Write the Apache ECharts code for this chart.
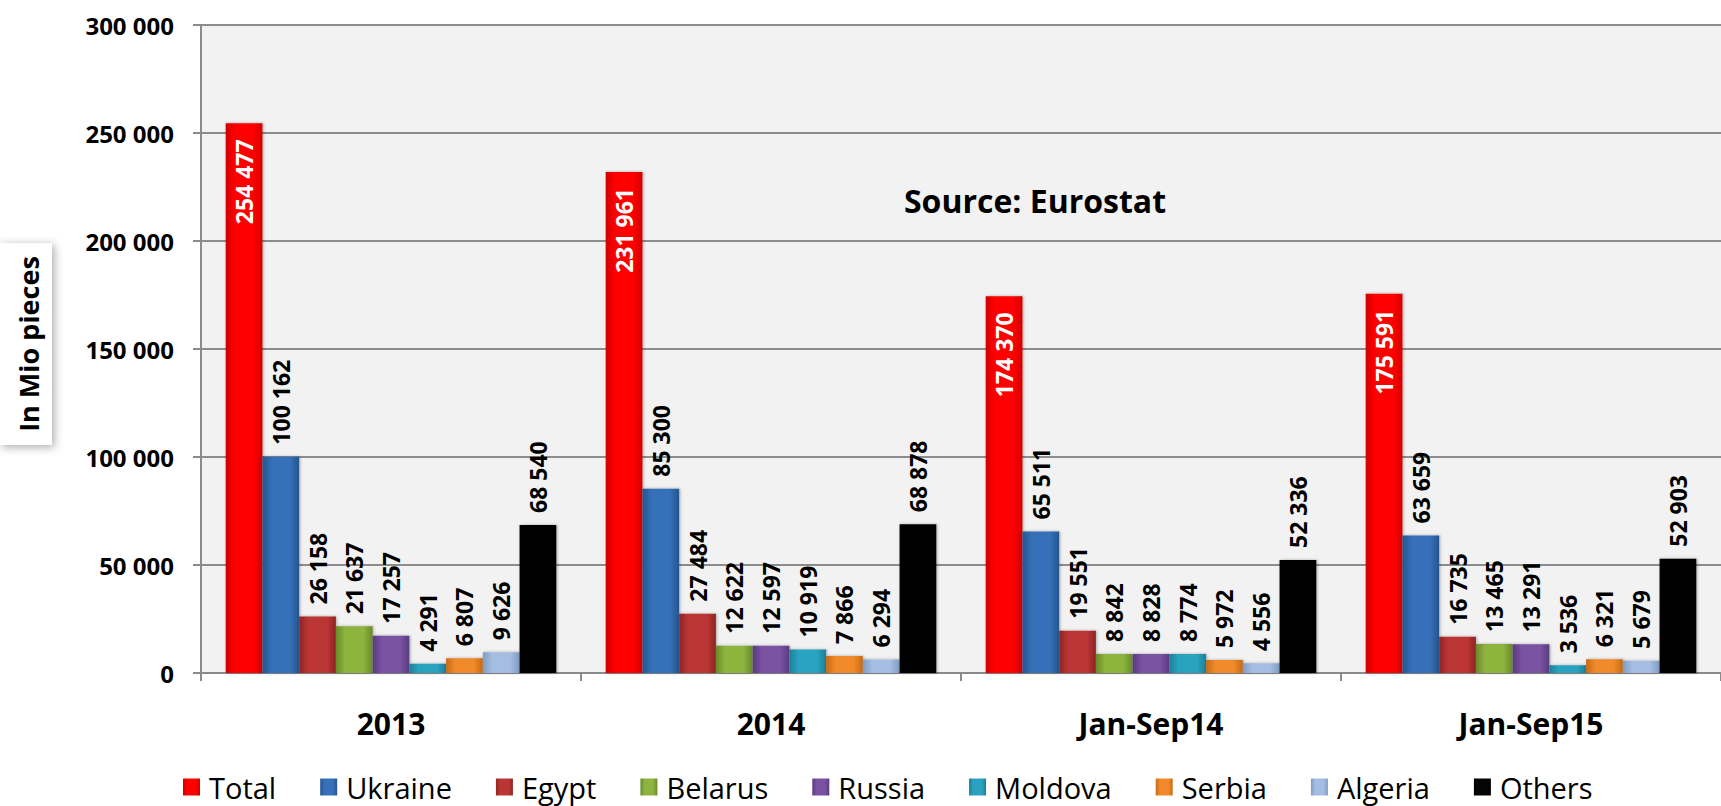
<!DOCTYPE html>
<html>
<head>
<meta charset="utf-8">
<script src="https://cdn.jsdelivr.net/npm/echarts@6/dist/echarts.min.js"></script>
<style>
  html, body { margin: 0; padding: 0; background: #ffffff; }
  #chart { width: 1721px; height: 806px; }
</style>
</head>
<body>
<div id="chart"></div>
<script>
// ---- data ----
const categories = ['2013', '2014', 'Jan-Sep14', 'Jan-Sep15'];
const seriesNames = ['Total', 'Ukraine', 'Egypt', 'Belarus', 'Russia', 'Moldova', 'Serbia', 'Algeria', 'Others'];
const total   = [254477, 231961, 174370, 175591];
const ukraine = [100162, 85300, 65511, 63659];
const egypt   = [26158, 27484, 19551, 16735];
const belarus = [21637, 12622, 8842, 13465];
const russia  = [17257, 12597, 8828, 13291];
const moldova = [4291, 10919, 8774, 3536];
const serbia  = [6807, 7866, 5972, 6321];
const algeria = [9626, 6294, 4556, 5679];
const others  = [68540, 68878, 52336, 52903];
const yMin = 0, yMax = 300000, yStep = 50000;

// ---- styles ----
const baseColors = ['#ff0000', '#3570b8', '#bb3535', '#8db43e', '#7a52a2', '#2ba3c0', '#f08a2a', '#a4bde0', '#050505'];
const edgeColors = ['#d00000', '#24558f', '#8f2424', '#6a8a2a', '#5a3a80', '#1d7f98', '#c86a14', '#7f9cc4', '#000000'];

const seriesData = [total, ukraine, egypt, belarus, russia, moldova, serbia, algeria, others];

function fmt(v) {
  return String(v).replace(/\B(?=(\d{3})+(?!\d))/g, ' ');
}
function grad(i) {
  return new echarts.graphic.LinearGradient(0, 0, 1, 0, [
    { offset: 0, color: edgeColors[i] },
    { offset: 0.25, color: baseColors[i] },
    { offset: 0.75, color: baseColors[i] },
    { offset: 1, color: edgeColors[i] }
  ]);
}

const labelFont = "'Open Sans', sans-serif";
const mainFont = "'Open Sans', sans-serif";

const series = seriesNames.map((name, i) => {
  const isTotal = i === 0;
  return {
    name: name,
    type: 'bar',
    data: seriesData[i],
    barGap: '0%',
    barCategoryGap: '13%',
    itemStyle: {
      color: grad(i),
      shadowBlur: 3,
      shadowColor: 'rgba(0,0,0,0.3)',
      shadowOffsetX: 1
    },
    label: {
      show: true,
      rotate: 90,
      position: isTotal ? 'insideTop' : 'top',
      distance: isTotal ? 16 : 12,
      align: isTotal ? 'right' : 'left',
      verticalAlign: 'middle',
      color: isTotal ? '#ffffff' : '#000000',
      fontFamily: labelFont,
      fontWeight: 'bold',
      fontSize: 23,
      formatter: p => fmt(p.value)
    }
  };
});

const chart = echarts.init(document.getElementById('chart'), null, { renderer: 'svg' });
chart.setOption({
  animation: false,
  color: baseColors,
  textStyle: { fontFamily: mainFont },
  grid: {
    left: 201, right: 0, top: 25, bottom: 133,
    show: true, backgroundColor: '#f2f2f2', borderWidth: 0
  },
  legend: {
    data: seriesNames.map((n, i) => ({ name: n, itemStyle: { color: grad(i) } })),
    left: 183,
    top: 771,
    padding: 0,
    itemWidth: 17,
    itemHeight: 17,
    itemGap: 44,
    icon: 'rect',
    textStyle: { fontFamily: mainFont, fontSize: 29, lineHeight: 32, color: '#000', padding: [0, 0, 0, 4] }
  },
  xAxis: {
    type: 'category',
    data: categories,
    axisLine: { lineStyle: { color: '#8a8a8a', width: 2 } },
    axisTick: { show: true, length: 8, lineStyle: { color: '#8a8a8a', width: 2 } },
    axisLabel: { fontFamily: mainFont, fontWeight: 'bold', fontSize: 30, color: '#000', margin: 35 }
  },
  yAxis: {
    type: 'value',
    min: yMin, max: yMax, interval: yStep,
    axisLine: { show: true, lineStyle: { color: '#8a8a8a', width: 2 } },
    axisTick: { show: true, length: 8, lineStyle: { color: '#8a8a8a', width: 2 } },
    splitLine: { show: true, lineStyle: { color: '#8c8c8c', width: 2 } },
    axisLabel: { fontFamily: mainFont, fontWeight: 'bold', fontSize: 24, color: '#000', margin: 27, formatter: v => fmt(v) }
  },
  graphic: [
    {
      type: 'rect',
      shape: { x: 0, y: 243, width: 52, height: 202 },
      style: { fill: '#ffffff', shadowBlur: 10, shadowColor: 'rgba(0,0,0,0.35)', shadowOffsetX: 2, shadowOffsetY: 2 },
      z: 10
    },
    {
      type: 'text',
      x: 28, y: 344,
      rotation: Math.PI / 2,
      style: { text: 'In Mio pieces', fontFamily: mainFont, fontWeight: 'bold', fontSize: 27, fill: '#000', align: 'center', verticalAlign: 'middle' },
      z: 11
    },
    {
      type: 'text',
      x: 1035, y: 200,
      style: { text: 'Source: Eurostat', fontFamily: mainFont, fontWeight: 'bold', fontSize: 32, fill: '#000', align: 'center', verticalAlign: 'middle' },
      z: 11
    }
  ],
  series: series
});
</script>
</body>
</html>
